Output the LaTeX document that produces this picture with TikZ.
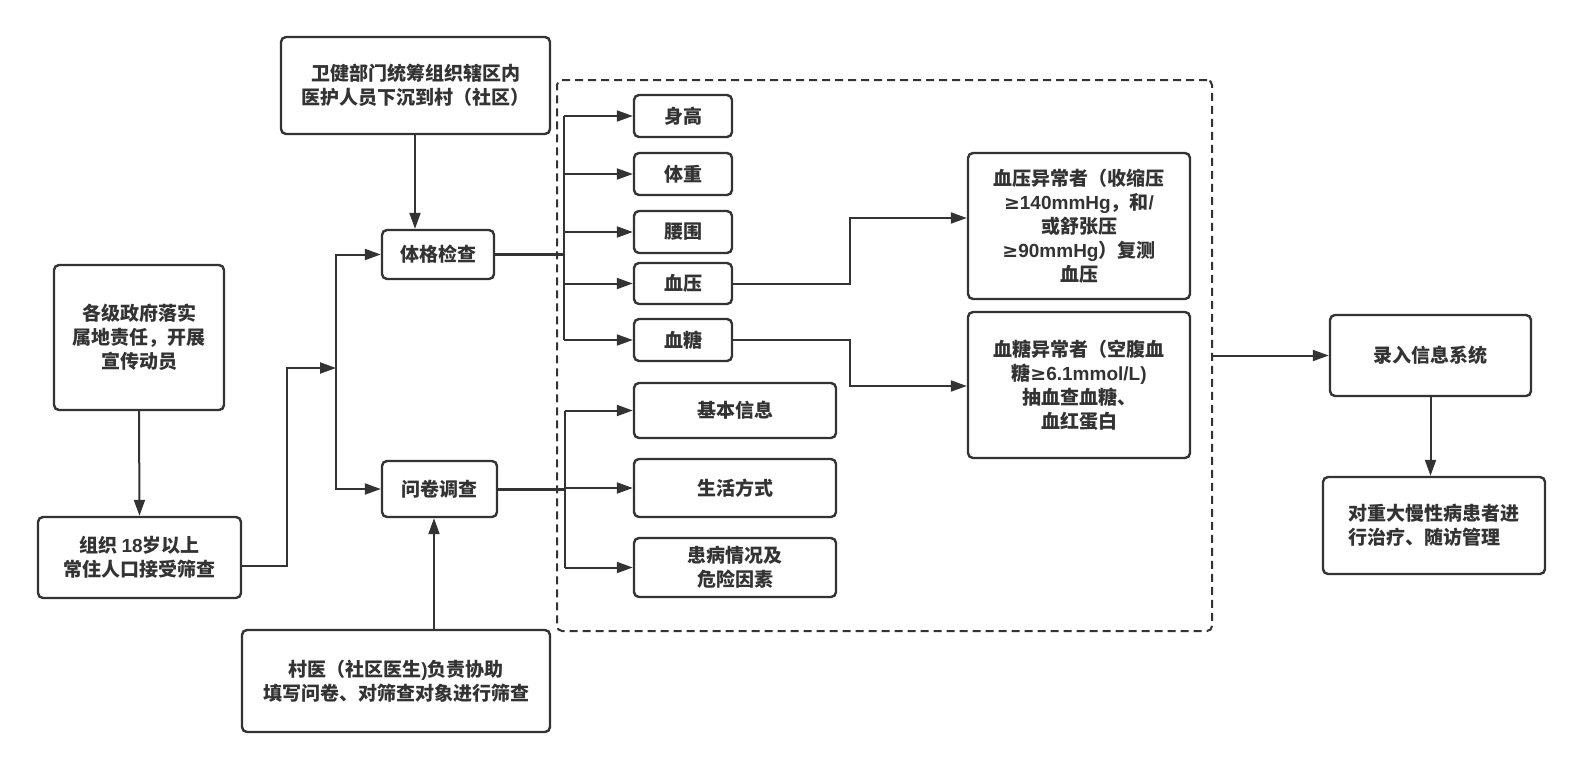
\documentclass[tikz,border=0pt]{standalone}
\usepackage{fontspec}
\setmainfont{Noto Sans CJK SC}
\newfontfamily\latfont{Liberation Sans}
\newfontfamily\symfont{DejaVu Sans}
\newcommand{\lat}[1]{{\latfont\bfseries #1}}
\newcommand{\mygeq}{{\symfont\bfseries ≥}}
\usetikzlibrary{arrows.meta,calc}
\definecolor{ink}{HTML}{333333}
\tikzset{
  box/.style={draw=ink, line width=2.4pt, rounded corners=5pt, align=center, text=ink,
    font=\fontsize{19}{24}\selectfont\bfseries, inner sep=0pt},
  conn/.style={draw=ink, line width=2pt},
  thick conn/.style={draw=ink, line width=3pt},
  arr/.style={conn, -{Triangle[length=16pt,width=11pt]}},
}
\begin{document}
\begin{tikzpicture}[x=1pt,y=-1pt]
\useasboundingbox (0,0) rectangle (1578,768);
% group (dashed)
\node[draw=ink, line width=2pt, dash pattern=on 8pt off 5pt, rounded corners=5pt,
      minimum width=655pt, minimum height=551pt, inner sep=0pt] (grp) at (884.5,355.5) {};
% left part
\node[box, minimum width=170pt, minimum height=145pt] (gov) at (139,337.5) {各级政府落实\\属地责任，开展\\宣传动员};
\node[box, minimum width=203pt, minimum height=81pt] (org) at (139.5,557.5) {组织 \lat{18}岁以上\\常住人口接受筛查};
\node[box, minimum width=269pt, minimum height=97pt] (wj) at (415.5,85.5) {卫健部门统筹组织辖区内\\医护人员下沉到村（社区）};
\node[box, minimum width=112pt, minimum height=49pt] (tg) at (438,254.5) {体格检查};
\node[box, minimum width=115pt, minimum height=56pt] (wq) at (439.5,489) {问卷调查};
\node[box, minimum width=308pt, minimum height=102pt] (cy) at (396,681) {村医（社区医生\lat{)}负责协助\\填写问卷、对筛查对象进行筛查};
% middle items
\node[box, minimum width=98pt, minimum height=42pt] (sg) at (683,116) {身高};
\node[box, minimum width=98pt, minimum height=42pt] (tz) at (683,174) {体重};
\node[box, minimum width=98pt, minimum height=42pt] (yw) at (683,232) {腰围};
\node[box, minimum width=98pt, minimum height=41pt] (xy) at (683,283.5) {血压};
\node[box, minimum width=98pt, minimum height=42pt] (xt) at (683,340) {血糖};
\node[box, minimum width=202pt, minimum height=55pt] (jb) at (735,410.5) {基本信息};
\node[box, minimum width=202pt, minimum height=58pt] (sh) at (735,488) {生活方式};
\node[box, minimum width=202pt, minimum height=59pt] (hb) at (735,567.5) {患病情况及\\危险因素};
% right items
\node[box, minimum width=222pt, minimum height=146pt] (xyy) at (1079,226) {血压异常者（收缩压\\\mygeq\lat{140mmHg}，和\lat{/}\\或舒张压\\\mygeq\lat{90mmHg}）复测\\血压};
\node[box, minimum width=222pt, minimum height=146pt] (xty) at (1079,385) {血糖异常者（空腹血\\糖\mygeq\lat{6.1mmol/L)}\\抽血查血糖、\\血红蛋白};
\node[box, minimum width=201pt, minimum height=81pt] (lr) at (1430.5,355.5) {录入信息系统};
\node[box, minimum width=222pt, minimum height=97pt, align=left] (dz) at (1434,525.5) {对重大慢性病患者进\\行治疗、随访管理};
% connectors
\coordinate (J) at (336,368);
\coordinate (ox) at (287,0);
\coordinate (cyx) at (434,0);
\coordinate (wjx) at (415,0);
\coordinate (t1) at (564,0);
\coordinate (t2) at (565,0);
\coordinate (bx) at (850,0);
\draw[arr] (gov.south) -- (org.north);
\draw[arr] ($(org.east)+(0,8.5)$) -| (ox |- J) -- (J);
\draw[arr] (J) |- (tg.west);
\draw[arr] (J) |- (wq.west);
\draw[arr] (wj.south -| wjx) -- (tg.north -| wjx);
\draw[arr] (cy.north -| cyx) -- (wq.south -| cyx);
% physical exam branches
\draw[thick conn] (tg.east) -- (tg.east -| t1);
\draw[conn] (t1 |- sg.west) -- (t1 |- xt.west);
\foreach \n in {sg,tz,yw,xy,xt} {\draw[arr] (t1 |- \n.west) -- (\n.west);}
% questionnaire branches
\draw[thick conn] (wq.east) -- (wq.east -| t2);
\draw[conn] (t2 |- jb.west) -- (t2 |- hb.west);
\foreach \n in {jb,sh,hb} {\draw[arr] (t2 |- \n.west) -- (\n.west);}
% abnormal
\draw[arr] (xy.east) -| (bx |- {$(xyy.west)+(0,-8)$}) -- ($(xyy.west)+(0,-8)$);
\draw[arr] (xt.east) -| (bx |- {$(xty.west)+(0,1)$}) -- ($(xty.west)+(0,1)$);
% system
\draw[arr] (grp.east) -- (lr.west);
\draw[arr] (lr.south) -- (lr.south |- dz.north);
\end{tikzpicture}
\end{document}
